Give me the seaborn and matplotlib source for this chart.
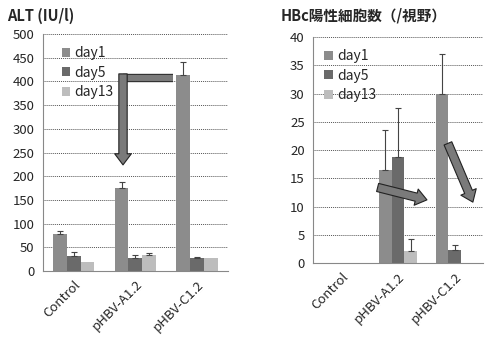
import numpy as np
import pandas as pd
import seaborn as sns
import matplotlib.pyplot as plt
import matplotlib.patheffects as pe

groups = ['Control', 'pHBV-A1.2', 'pHBV-C1.2']
days = ['day1', 'day5', 'day13']

# ALT (IU/l): mean and upper error, per day
alt_mean = {'day1': [78, 175, 414], 'day5': [32, 28, 27], 'day13': [20, 33, 28]}
alt_err = {'day1': [7, 12, 28], 'day5': [8, 5, 3], 'day13': [0, 5, 0]}

# HBc positive cells per field
hbc_mean = {'day1': [0, 16.5, 30.0], 'day5': [0, 18.8, 2.4], 'day13': [0, 2.2, 0]}
hbc_err = {'day1': [0, 7.0, 7.0], 'day5': [0, 8.7, 0.8], 'day13': [0, 2.1, 0]}

colors = ['#8c8c8c', '#6a6a6a', '#bdbdbd']

sns.set_style('white')
plt.rcParams['font.family'] = ['Noto Sans CJK JP', 'DejaVu Sans']


def to_frame(means):
    rows = []
    for d in days:
        for g, v in zip(groups, means[d]):
            rows.append({'group': g, 'day': d, 'value': v})
    return pd.DataFrame(rows)


def draw_panel(ax, means, errs, ymax, step, leg_x):
    df = to_frame(means)
    sns.barplot(data=df, x='group', y='value', hue='day', palette=colors,
                width=0.67, errorbar=None, ax=ax, zorder=2,
                edgecolor='none', saturation=1)
    for cont, d in zip(ax.containers, days):
        for bar, e in zip(cont, errs[d]):
            if e <= 0:
                continue
            cx = bar.get_x() + bar.get_width() / 2
            h = bar.get_height()
            ax.errorbar(cx, h, yerr=[[0], [e]], fmt='none', ecolor='#444',
                        elinewidth=0.8, capsize=2, capthick=0.8, zorder=3)
    ax.set_ylim(0, ymax)
    ax.set_xlim(-0.5, 2.5)
    ax.set_yticks(np.arange(0, ymax + 1, step))
    ax.yaxis.grid(True, linestyle=(0, (1, 1)), color='#555', linewidth=0.7)
    ax.set_axisbelow(True)
    ax.set_xlabel('')
    ax.set_ylabel('')
    ax.set_xticks([0, 1, 2])
    ax.set_xticklabels(groups, rotation=45, ha='right', rotation_mode='anchor',
                       fontsize=9.5)
    ax.set_xticks([-0.5, 0.5, 1.5, 2.5], minor=True)
    ax.tick_params(axis='x', which='major', length=0, pad=5)
    ax.tick_params(axis='x', which='minor', length=3, color='#777', direction='out')
    ax.tick_params(axis='y', labelsize=9.5, length=0, pad=6)
    for s in ['top', 'right']:
        ax.spines[s].set_visible(False)
    ax.spines['left'].set_color('#888')
    ax.spines['left'].set_linewidth(0.8)
    ax.spines['bottom'].set_color('#888')
    ax.spines['bottom'].set_linestyle((0, (1, 1)))
    ax.spines['bottom'].set_linewidth(0.8)
    ax.legend(loc='upper left', frameon=False, fontsize=10, handlelength=0.6,
              handleheight=0.6, handletextpad=0.3, labelspacing=0.4,
              borderaxespad=0.3, bbox_to_anchor=(leg_x, 0.99))


def arrow(ax, start, end):
    ax.annotate('', xy=end, xytext=start,
                arrowprops=dict(arrowstyle='simple,head_width=1.2,head_length=0.8,tail_width=0.6',
                                fc='#7a7a7a', ec='#222', lw=0.8, shrinkA=0, shrinkB=0),
                zorder=5)


fig = plt.figure(figsize=(4.86, 3.44), dpi=100)
ax1 = fig.add_axes([0.088, 0.212, 0.381, 0.689])
ax2 = fig.add_axes([0.644, 0.235, 0.350, 0.657])

draw_panel(ax1, alt_mean, alt_err, 500, 50, 0.05)
draw_panel(ax2, hbc_mean, hbc_err, 40, 5, 0.01)

# bent arrow on ALT panel
ax1.plot([1.61, 0.8], [407, 407], color='#7a7a7a', lw=4.6, solid_capstyle='butt',
         zorder=5, path_effects=[pe.Stroke(linewidth=6, foreground='#222'), pe.Normal()])
arrow(ax1, (0.8, 416), (0.8, 224))

arrow(ax2, (0.64, 13.4), (1.51, 11.2))
arrow(ax2, (1.88, 21.2), (2.32, 10.8))

fig.text(0.015, 0.955, 'ALT (IU/l)', fontsize=10.5, fontweight='bold', va='center')
fig.text(0.577, 0.955, 'HBc陽性細胞数（/視野）', fontsize=10.5, fontweight='bold',
         va='center')

fig.savefig('out.png', dpi=100)
